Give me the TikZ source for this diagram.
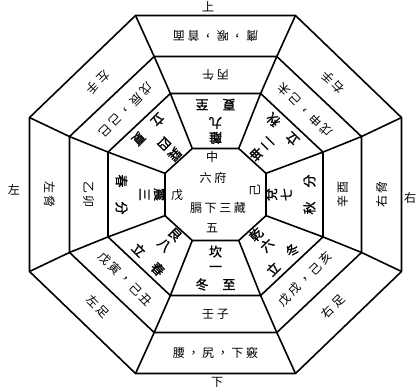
\documentclass[tikz,border=0pt]{standalone}
\usepackage{fontspec}
\newfontfamily\cjk{Noto Sans CJK TC}
\newfontfamily\cjkls[LetterSpace=22]{Noto Sans CJK TC}
\newfontfamily\cjkbold[FakeBold=1.2]{Noto Sans CJK TC}
\newcommand\ringnode[6]{\node[#1,rotate={#3+90}] (#2) at ({215.5+#4*cos(#3)},{194.5-#5*sin(#3)}) {#6};}
\newcommand\octagon[4]{%
  \coordinate (#1-1) at ({215.5+#4*#2},{194.5-#3});
  \coordinate (#1-2) at ({215.5+#2},{194.5-#4*#3});
  \coordinate (#1-3) at ({215.5+#2},{194.5+#4*#3});
  \coordinate (#1-4) at ({215.5+#4*#2},{194.5+#3});
  \coordinate (#1-5) at ({215.5-#4*#2},{194.5+#3});
  \coordinate (#1-6) at ({215.5-#2},{194.5+#4*#3});
  \coordinate (#1-7) at ({215.5-#2},{194.5-#4*#3});
  \coordinate (#1-8) at ({215.5-#4*#2},{194.5-#3});
  \draw[edge] (#1-1)--(#1-2)--(#1-3)--(#1-4)--(#1-5)--(#1-6)--(#1-7)--(#1-8)--cycle;}
\begin{document}
\begin{tikzpicture}[x=1pt,y=-1pt,
  edge/.style={line width=1.6pt,line join=round},
  outertxt/.style={inner sep=0pt,font=\fontsize{12}{14}\selectfont\cjkls},
  midtxt/.style={inner sep=0pt,font=\fontsize{12}{14}\selectfont\cjkls},
  radtxt/.style={inner sep=0pt,align=center,font=\fontsize{13}{15}\selectfont\cjkbold},
  termtxt/.style={inner sep=0pt,font=\fontsize{13}{15}\selectfont\cjkbold},
  ctr/.style={inner sep=0pt,font=\fontsize{12}{14}\selectfont\cjkls},
  lab/.style={inner sep=0pt,font=\fontsize{12}{14}\selectfont\cjk}]
\useasboundingbox (0,0) rectangle (417,389);
\fill[white] (0,0) rectangle (417,389);
\octagon{O}{186}{179}{0.43}
\octagon{M}{146}{138}{0.42}
\octagon{I}{107.5}{101}{0.42}
\octagon{C}{50.5}{46}{0.46}
\foreach \i in {1,...,8} \draw[edge] (C-\i)--(I-\i)--(M-\i)--(O-\i);
% outer ring
\ringnode{outertxt}{o1}{-90}{166}{158.5}{腰，尻，下竅}
\ringnode{outertxt}{o2}{-45}{166}{158.5}{右足}
\ringnode{outertxt}{o3}{0}{166}{158.5}{右脅}
\ringnode{outertxt}{o4}{45}{166}{158.5}{右手}
\ringnode{outertxt}{o5}{90}{166}{158.5}{膺，喉，首面}
\ringnode{outertxt}{o6}{135}{166}{158.5}{左手}
\ringnode{outertxt}{o7}{180}{166}{158.5}{左脅}
\ringnode{outertxt}{o8}{225}{166}{158.5}{左足}
% middle ring
\ringnode{midtxt}{m1}{-90}{127}{119.5}{壬子}
\ringnode{midtxt}{m2}{-45}{127}{119.5}{戊戌，己亥}
\ringnode{midtxt}{m3}{0}{127}{119.5}{辛酉}
\ringnode{midtxt}{m4}{45}{127}{119.5}{戊申，己未}
\ringnode{midtxt}{m5}{90}{127}{119.5}{丙午}
\ringnode{midtxt}{m6}{135}{127}{119.5}{戊辰，己巳}
\ringnode{midtxt}{m7}{180}{127}{119.5}{乙卯}
\ringnode{midtxt}{m8}{225}{127}{119.5}{戊寅，己丑}
% inner ring: trigram and number
\ringnode{radtxt}{r1}{-90}{63}{64}{坎\\一}
\ringnode{radtxt}{r2}{-45}{65}{64}{乾\\六}
\ringnode{radtxt}{r3}{0}{63}{64}{兌\\七}
\ringnode{radtxt}{r4}{45}{65}{64}{坤\\二}
\ringnode{radtxt}{r5}{90}{63}{64}{離\\九}
\ringnode{radtxt}{r6}{135}{65}{64}{巽\\四}
\ringnode{radtxt}{r7}{180}{63}{64}{震\\三}
\ringnode{radtxt}{r8}{225}{65}{64}{艮\\八}
% inner ring: solar terms
\ringnode{termtxt}{t1}{-90}{94}{90}{冬\hspace{14pt}至}
\ringnode{termtxt}{t2}{-45}{95}{92}{立\hspace{14pt}冬}
\ringnode{termtxt}{t3}{0}{94}{90}{秋\hspace{14pt}分}
\ringnode{termtxt}{t4}{45}{95}{92}{立\hspace{14pt}秋}
\ringnode{termtxt}{t5}{90}{94}{90}{夏\hspace{14pt}至}
\ringnode{termtxt}{t6}{135}{95}{92}{立\hspace{14pt}夏}
\ringnode{termtxt}{t7}{180}{94}{90}{春\hspace{14pt}分}
\ringnode{termtxt}{t8}{225}{95}{92}{立\hspace{14pt}春}
% centre
\node[ctr] (zhong) at (212,157) {中};
\node[ctr] (liufu) at (213,178) {六府};
\node[ctr] (gexia) at (218,208) {膈下三藏};
\node[ctr] (wu) at (212,228) {五};
\node[ctr] (wugan) at (177,195) {戊};
\node[ctr,rotate=90] (jigan) at (255,190) {己};
% directions
\node[lab] (shang) at (208,7) {上};
\node[lab] (xia) at (217,382) {下};
\node[lab] (zuo) at (14,190) {左};
\node[lab] (you) at (410,198) {右};
\end{tikzpicture}
\end{document}
